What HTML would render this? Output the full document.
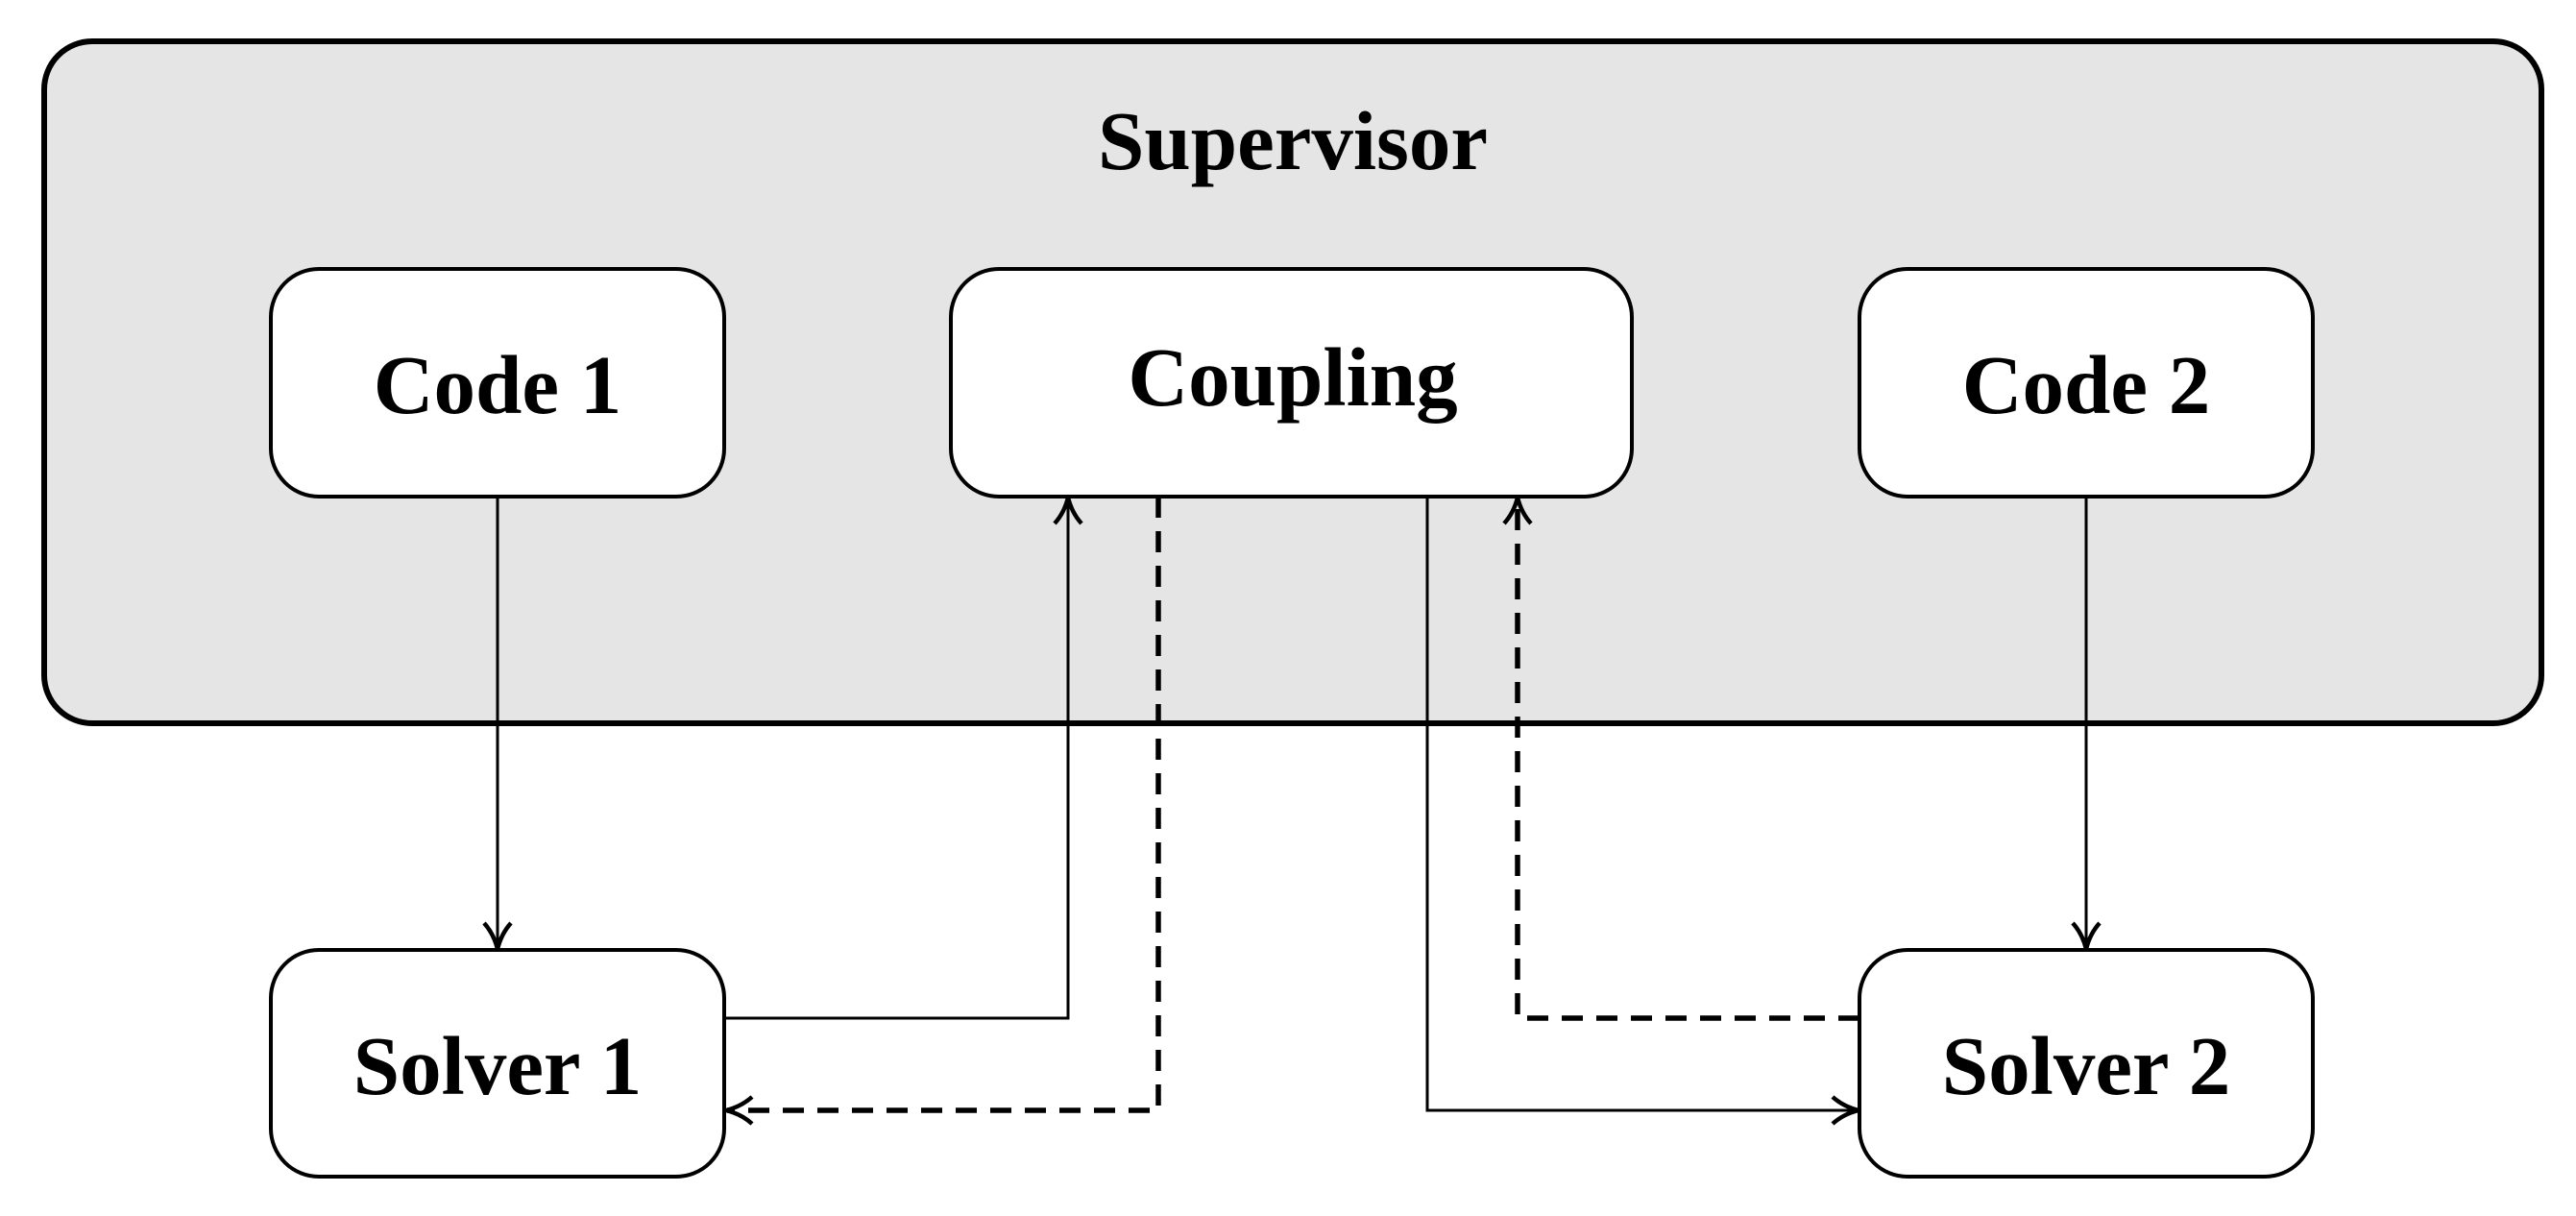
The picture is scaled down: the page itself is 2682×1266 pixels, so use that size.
<!DOCTYPE html>
<html><head><meta charset="utf-8"><style>
html,body{margin:0;padding:0;background:#fff;}
svg{display:block;}
text{font-family:"Liberation Serif",serif;font-weight:bold;fill:#000;text-anchor:middle;}
</style></head><body>
<svg width="2682" height="1266" viewBox="0 0 2682 1266" xmlns="http://www.w3.org/2000/svg">
<defs>
<marker id="b" markerWidth="34" markerHeight="34" refX="29" refY="17" orient="auto" markerUnits="userSpaceOnUse">
<path d="M3,3 Q14,13 30,17 Q14,21 3,31" fill="none" stroke="#000" stroke-width="4.5"/>
</marker>
</defs>
<rect x="46" y="43" width="2600" height="710" rx="50" fill="#e5e5e5" stroke="#000" stroke-width="6"/>
<text x="1346" y="176" font-size="87">Supervisor</text>
<g fill="#fff" stroke="#000" stroke-width="4">
<rect x="282" y="280" width="472" height="237" rx="50"/>
<rect x="990" y="280" width="709" height="237" rx="50"/>
<rect x="1936" y="280" width="472" height="237" rx="50"/>
<rect x="282" y="989" width="472" height="236" rx="50"/>
<rect x="1936" y="989" width="472" height="236" rx="50"/>
</g>
<g font-size="87">
<text x="518" y="430">Code 1</text>
<text x="1346" y="422">Coupling</text>
<text x="2172" y="430">Code 2</text>
<text x="518" y="1139">Solver 1</text>
<text x="2172" y="1139">Solver 2</text>
</g>
<g fill="none" stroke="#000" stroke-width="3">
<path d="M518,517 V987" marker-end="url(#b)"/>
<path d="M2172,517 V987" marker-end="url(#b)"/>
<path d="M754,1060 H1112 V519" marker-end="url(#b)"/>
<path d="M1486,517 V1156 H1934" marker-end="url(#b)"/>
</g>
<g fill="none" stroke="#000" stroke-width="5.5" stroke-dasharray="22,14">
<path d="M1206,517 V1156 H757" marker-end="url(#b)"/>
<path d="M1936,1060 H1580 V519" marker-end="url(#b)"/>
</g>
</svg>
</body></html>
